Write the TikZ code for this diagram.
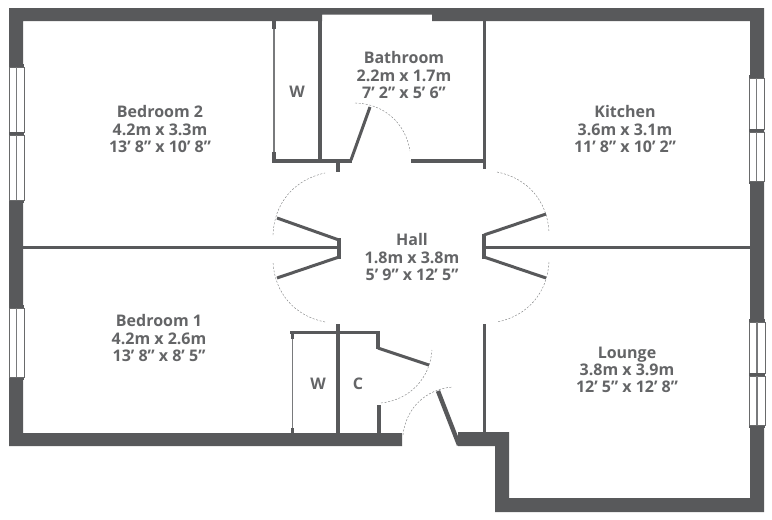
\documentclass[tikz,border=0pt]{standalone}
\usepackage{fontspec}
\setmainfont{Open Sans}
\usepackage{xcolor}
\usetikzlibrary{
    positioning,
    calc
}
\definecolor{wallGrey}{RGB}{88, 89, 91}
\definecolor{labelGrey}{RGB}{100, 101, 103}

\tikzset{
    partition/.style={draw=wallGrey, line width=3.6pt},
    leaf/.style={draw=wallGrey, line width=3pt},
    swing/.style={draw=wallGrey!80, line width=0.4pt, dash pattern=on 2pt off 1.6pt},
    rail/.style={draw=wallGrey!80, line width=1.4pt},
    pane/.style={draw=wallGrey!90, fill=white, line width=1pt},
    roomlabel/.style={align=center, text=labelGrey, font=\fontsize{16}{17.2}\selectfont\bfseries},
}

\begin{document}
\begin{tikzpicture}[x=1pt, y=-1pt]
    \useasboundingbox (0,0) rectangle (772,520);
    \fill[white] (0,0) rectangle (772,520);

    % outer wall
    \fill[wallGrey] (402,446)--(9,446)--(9,8)--(764,8)--(764,512)--(495,512)--(495,446)--(458,446)
        --(458,432)--(509,432)--(509,498)--(750,498)--(750,21)--(432,21)--(432,14.5)--(322,14.5)
        --(322,21)--(23,21)--(23,433)--(402,433)--cycle;

    % windows
    \foreach \xa/\ya/\xb/\yb in {9/67/24/132, 9/135/24/200, 9/308/24/377,
        749/78/764/129, 749/132/764/181, 749/322/765/373, 749/376/765/425}{
        \fill[wallGrey] (\xa,\ya-3)--(\xb,\ya-3)--(\xb,\yb+3)--(\xa,\yb+3)--cycle;
        \draw[pane] (\xa,\ya) rectangle (\xb,\yb);
        \draw[rail] ({(\xa+\xb)/2},\ya) -- ({(\xa+\xb)/2},\yb);
    }

    % bedroom 2 wardrobe and bathroom
    \draw[rail] (274,21) -- (274,160);
    \draw[partition] (274,21) -- (274,29);
    \draw[partition] (274,152) -- (274,160);
    \draw[partition] (320,21) -- (320,161);
    \draw[partition] (272,161) -- (352,161);
    \draw[partition] (338,161) -- (338,172);
    \draw[partition] (411,161) -- (486,161);
    \draw[partition] (484.5,21) -- (484.5,169);

    % hall cross walls
    \draw[partition] (23,247.5) -- (340,247.5);
    \draw[partition] (484,247.5) -- (750,247.5);
    \draw[partition] (339,238) -- (339,259);
    \draw[partition] (484,234) -- (484,259);
    \draw[partition] (338,324) -- (338,433);
    \draw[partition] (484.5,324) -- (484.5,433);

    % cupboards
    \draw[partition] (290,332.5) -- (380,332.5);
    \draw[partition] (378,332.5) -- (378,349);
    \draw[partition] (379,405) -- (379,433);
    \draw[rail] (292.5,333) -- (292.5,433);
    \draw[partition] (292.5,333) -- (292.5,339);
    \draw[partition] (292.5,428) -- (292.5,433);

    % door leaves
    \draw[leaf] (351,160) -- (370,107);
    \draw[leaf] (339,240) -- (277,218);
    \draw[leaf] (339,257) -- (277,278);
    \draw[leaf] (484,235) -- (546,214);
    \draw[leaf] (484,257) -- (546,278);
    \draw[leaf] (378,348) -- (429,365);
    \draw[leaf, line width=4.4pt] (438,391) -- (459,445);

    % door swings
    \draw[swing] (355,103) to[bend left=40] (410,151);
    \draw[swing] (273,235) to[bend left=38] (325,173);
    \draw[swing] (325,322) to[bend left=38] (273,262);
    \draw[swing] (497,172) to[bend left=38] (549,232);
    \draw[swing] (549,262) to[bend left=38] (497,322);
    \draw[swing] (381,403) to[bend right=40] (432,350);
    \draw[swing] (403,435) to[bend left=40] (453,387);

    % room labels
    \node[roomlabel] (bedroomtwo) at (160,129) {Bedroom 2\\4.2m x 3.3m\\13’ 8” x 10’ 8”};
    \node[roomlabel] (bathroom) at (404,75) {Bathroom\\2.2m x 1.7m\\7’ 2” x 5’ 6”};
    \node[roomlabel] (kitchen) at (625,129) {Kitchen\\3.6m x 3.1m\\11’ 8” x 10’ 2”};
    \node[roomlabel] (hall) at (412,257) {Hall\\1.8m x 3.8m\\5’ 9” x 12’ 5”};
    \node[roomlabel] (bedroomone) at (159,338) {Bedroom 1\\4.2m x 2.6m\\13’ 8” x 8’ 5”};
    \node[roomlabel] (lounge) at (627,370) {Lounge\\3.8m x 3.9m\\12’ 5” x 12’ 8”};
    \node[roomlabel] (wardrobetop) at (297,92) {W};
    \node[roomlabel] (wardrobelow) at (318,384) {W};
    \node[roomlabel] (cupboard) at (358,384) {C};
\end{tikzpicture}
\end{document}
